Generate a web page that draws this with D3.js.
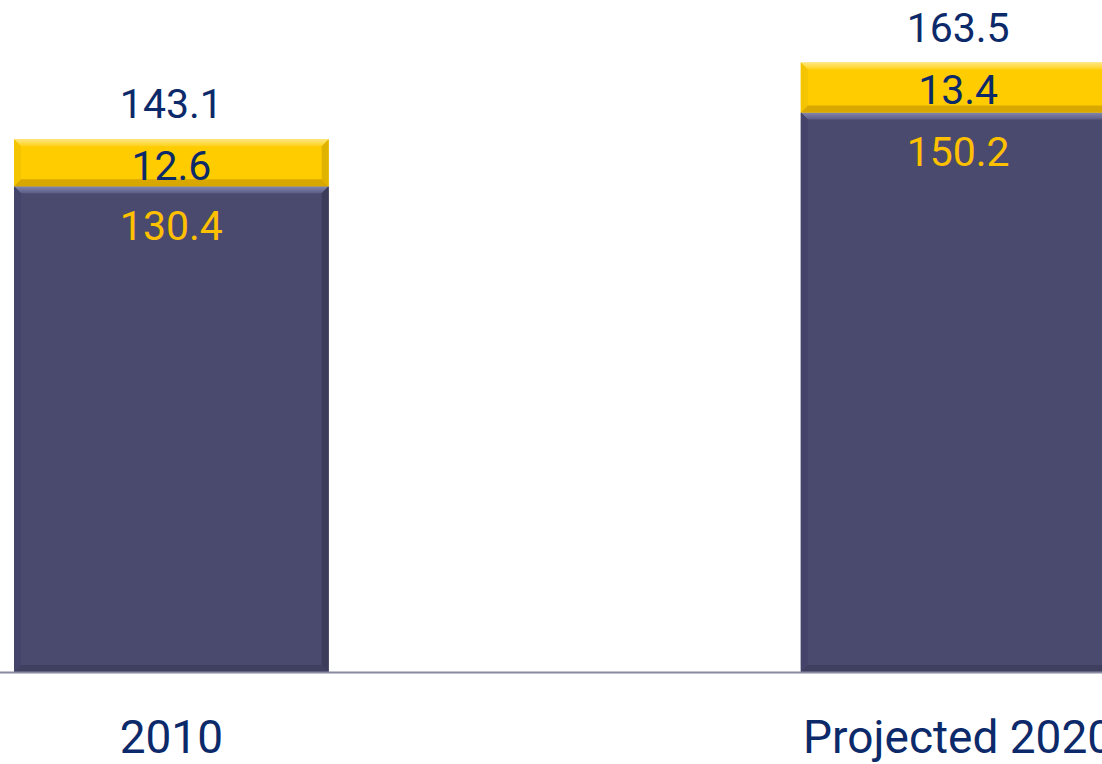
<!DOCTYPE html>
<html><head><meta charset="utf-8">
<script src="https://cdn.jsdelivr.net/npm/d3@7"></script>
<style>html,body{margin:0;padding:0;background:#fff;overflow:hidden}</style>
</head><body>
<svg id="c" width="1102" height="764"></svg>
<script>
const categories = ["2010", "Projected 2020"];
const baseValues = [130.4, 150.2];
const topValues = [12.6, 13.4];
const totals = ["143.1", "163.5"];
const baseLabels = ["130.4", "150.2"];
const topLabels = ["12.6", "13.4"];

const W = 1102, H = 764, baseY = 672;
const svg = d3.select("#c");
const x = d3.scaleBand().domain(categories).range([14, 1115.5]).paddingInner(0.6).paddingOuter(0);
const y = d3.scaleLinear().domain([0, 180.4]).range([baseY, 0]);
const font = "Roboto, 'Liberation Sans', sans-serif";

const defs = svg.append("defs");
function grad(id, c0, c1, vertical) {
  const lg = defs.append("linearGradient").attr("id", id)
    .attr("x1", 0).attr("y1", 0).attr("x2", vertical ? 0 : 1).attr("y2", vertical ? 1 : 0);
  lg.append("stop").attr("offset", "0%").attr("stop-color", c0);
  lg.append("stop").attr("offset", "100%").attr("stop-color", c1);
}
grad("navyTop", "#8486ad", "#5c5d85", true);
grad("yelTop", "#ffe680", "#ffd21a", true);

const segs = [];
categories.forEach((c, i) => {
  segs.push({c, y0: 0, y1: baseValues[i], fill: "#4a4a6e", light: "url(#navyTop)", dark: "#3f3f5f", side: "#44446a", sideR: "#3c3c5a"});
  segs.push({c, y0: baseValues[i], y1: baseValues[i] + topValues[i], fill: "#ffcc00", light: "url(#yelTop)", dark: "#d8a800", side: "#f5c400", sideR: "#e0b300"});
});

const bw = x.bandwidth(), b = 7;
const g = svg.append("g");
const pts = a => a.map(p => p.join(",")).join(" ");
segs.forEach(s => {
  const x0 = x(s.c), x1 = x0 + bw, top = y(s.y1), bot = y(s.y0);
  g.append("rect").attr("x", x0).attr("y", top).attr("width", bw).attr("height", bot - top).attr("fill", s.fill);
  g.append("polygon").attr("points", pts([[x0, top], [x1, top], [x1 - b, top + b], [x0 + b, top + b]])).attr("fill", s.light);
  g.append("polygon").attr("points", pts([[x0, top], [x0 + b, top + b], [x0 + b, bot - b], [x0, bot]])).attr("fill", s.side);
  g.append("polygon").attr("points", pts([[x1, top], [x1 - b, top + b], [x1 - b, bot - b], [x1, bot]])).attr("fill", s.sideR);
  g.append("polygon").attr("points", pts([[x0, bot], [x0 + b, bot - b], [x1 - b, bot - b], [x1, bot]])).attr("fill", s.dark);
});

// axis baseline
svg.append("line").attr("x1", 0).attr("x2", W).attr("y1", baseY + 0.5).attr("y2", baseY + 0.5)
  .attr("stroke", "#8a8aa2").attr("stroke-width", 2);

// category labels
svg.selectAll("text.cat").data(categories).join("text").attr("class", "cat")
  .attr("x", d => x(d) + bw / 2).attr("y", 753).attr("text-anchor", "middle")
  .attr("font-family", font).attr("font-size", 46).attr("fill", "#0c2a6a").text(d => d);

svg.selectAll("text.tot").data(categories).join("text").attr("class", "tot")
  .attr("x", d => x(d) + bw / 2).attr("y", (d, i) => y(baseValues[i] + topValues[i]) - 21)
  .attr("text-anchor", "middle").attr("font-family", font).attr("font-size", 41).attr("fill", "#0c2a6a")
  .text((d, i) => totals[i]);

svg.selectAll("text.topl").data(categories).join("text").attr("class", "topl")
  .attr("x", d => x(d) + bw / 2).attr("y", (d, i) => y(baseValues[i] + topValues[i]) + 41)
  .attr("text-anchor", "middle").attr("font-family", font).attr("font-size", 41).attr("fill", "#0c2a6a")
  .text((d, i) => topLabels[i]);

svg.selectAll("text.basel").data(categories).join("text").attr("class", "basel")
  .attr("x", d => x(d) + bw / 2).attr("y", (d, i) => y(baseValues[i]) + 54)
  .attr("text-anchor", "middle").attr("font-family", font).attr("font-size", 41).attr("fill", "#ffc000")
  .text((d, i) => baseLabels[i]);
</script>
</body></html>
